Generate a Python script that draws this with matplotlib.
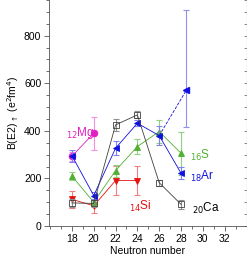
import numpy as np
import matplotlib
matplotlib.use('Agg')
import matplotlib.pyplot as plt
from matplotlib.ticker import MultipleLocator

plt.rcParams['font.family'] = ['Liberation Sans', 'DejaVu Sans']

# B(E2) up values
ca_n = [18, 20, 22, 24, 26, 28]
ca_b = [97, 95, 425, 467, 182, 91]
ca_e = [18, 15, 25, 15, 12, 20]

ar_n = [18, 20, 22, 24, 26, 28]
ar_b = [296, 128, 327, 432, 380, 222]
ar_e = [25, 15, 30, 12, 40, 25]
ar_extra_n = [26, 28.5]
ar_extra_b = [380, 572]
ar_extra_lo = [0, 155]
ar_extra_hi = [0, 335]

s_n = [18, 20, 22, 24, 26, 28]
s_b = [210, 100, 233, 334, 397, 306]
s_e = [18, 15, 25, 30, 50, 90]

si_n = [18, 20, 22, 24]
si_b = [112, 85, 191, 191]
si_e = [35, 30, 60, 60]

mg_n = [18, 20]
mg_b = [293, 390]
mg_e = [20, 70]

px = 1/100
fig = plt.figure(figsize=(247*px, 264*px), dpi=100)
ax = fig.add_axes([49/247, 38/264, 197.5/247, 226/264])

def series(n, b, e, col, ecol, marker, ms=4.6, mfc=None):
    ax.errorbar(n, b, yerr=e, fmt='none', ecolor=ecol, elinewidth=0.8, capsize=2.5, capthick=0.8)
    ax.plot(n, b, '-', color=col, lw=0.6)
    ax.plot(n, b, marker, color=col, ms=ms, mfc=mfc if mfc else col, mew=0.6, ls='none')

series(si_n, si_b, si_e, '#e81010', '#f08080', 'v')
series(s_n, s_b, s_e, '#50b030', '#90d080', '^')
series(mg_n, mg_b, mg_e, '#e020c0', '#f090e0', 'o', ms=4.8)
series(ar_n, ar_b, ar_e, '#1010e0', '#8080f0', '<')
ax.errorbar(ar_extra_n[1:], ar_extra_b[1:], yerr=[ar_extra_lo[1:], ar_extra_hi[1:]], fmt='none',
            ecolor='#9090f0', elinewidth=0.8, capsize=2.5, capthick=0.8)
ax.plot(ar_extra_n, ar_extra_b, '--', color='#1010e0', lw=0.6)
ax.plot(ar_extra_n[1:], ar_extra_b[1:], '<', color='#1010e0', ms=4.6)
series(ca_n, ca_b, ca_e, '#404040', '#909090', 's', ms=4.4, mfc='none')

fs = 7.5
lfs = 8.5
ax.text(17.45, 380, r'$_{12}$Mg', color='#e020c0', fontsize=lfs)
ax.text(23.2, 68, r'$_{14}$Si', color='#e81010', fontsize=lfs)
ax.text(28.8, 280, r'$_{16}$S', color='#50b030', fontsize=lfs)
ax.text(28.8, 193, r'$_{18}$Ar', color='#1010e0', fontsize=lfs)
ax.text(29.0, 58, r'$_{20}$Ca', color='black', fontsize=lfs)

ax.set_xlim(15.9, 34)
ax.set_ylim(0, 950)
ax.xaxis.set_minor_locator(MultipleLocator(1))
ax.yaxis.set_major_locator(MultipleLocator(200))
ax.yaxis.set_minor_locator(MultipleLocator(50))
ax.set_xticks(np.arange(18, 33, 2))
ax.tick_params(axis='both', which='both', labelsize=fs, width=0.6, color='#555555', pad=2)
ax.tick_params(axis='both', which='major', length=3.5)
ax.tick_params(axis='both', which='minor', length=2)
ax2 = ax.secondary_yaxis('right')
ax2.yaxis.set_major_locator(MultipleLocator(50))
ax2.tick_params(direction='in', length=2, width=0.6, color='#777777', labelright=False)
ax2.spines['right'].set_color('#999999')
ax.spines['top'].set_visible(False)
ax.spines['right'].set_visible(False)
for s in ['left', 'bottom']:
    ax.spines[s].set_linewidth(0.6)
    ax.spines[s].set_color('#555555')

ax.set_xlabel('Neutron number', fontsize=fs, labelpad=2)
ax.set_ylabel(r'B(E2)$_{\uparrow}$ (e$^2$fm$^4$)', fontsize=fs, labelpad=2)

plt.savefig('out.png', dpi=100)
